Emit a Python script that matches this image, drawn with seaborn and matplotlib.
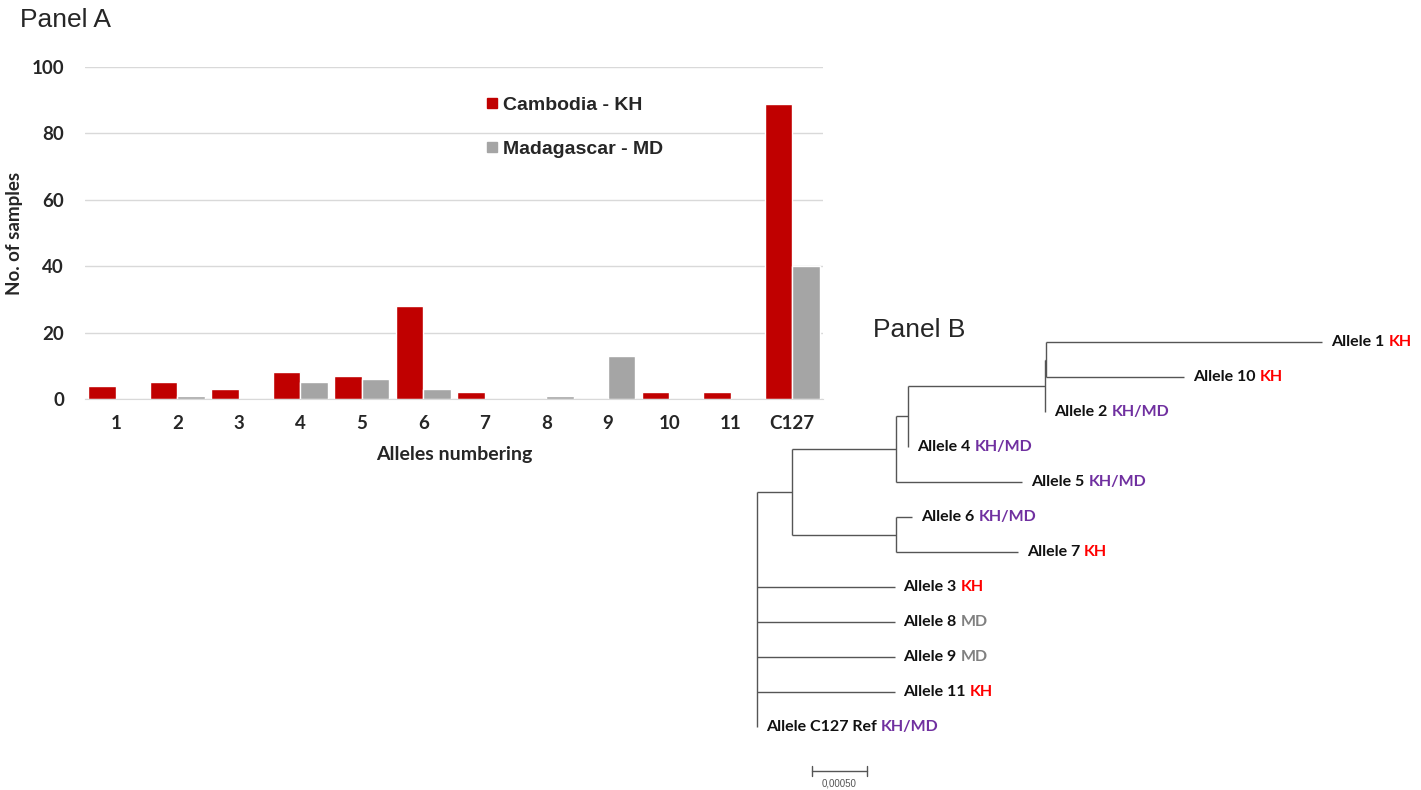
import numpy as np
import pandas as pd
import matplotlib
matplotlib.use('Agg')
import matplotlib.pyplot as plt
from matplotlib.lines import Line2D
import seaborn as sns

# Panel A data
alleles = ['1', '2', '3', '4', '5', '6', '7', '8', '9', '10', '11', 'C127']
cambodia_kh = [4, 5, 3, 8, 7, 28, 2, 0, 0, 2, 2, 89]
madagascar_md = [0, 1, 0, 5, 6, 3, 0, 1, 13, 0, 0, 40]
series_names = ['Cambodia - KH', 'Madagascar - MD']
y_ticks = [0, 20, 40, 60, 80, 100]

# Panel B data (tree edges, branch lengths in substitutions/site)
edge_child = ['A', 'C', 'D', 'E', 'F', 'G',
              'Allele 1', 'Allele 10', 'Allele 2', 'Allele 4', 'Allele 5',
              'Allele 6', 'Allele 7', 'Allele 3', 'Allele 8', 'Allele 9',
              'Allele 11', 'Allele C127 Ref']
edge_parent = ['root', 'A', 'A', 'C', 'E', 'F',
               'G', 'G', 'F', 'E', 'C',
               'D', 'D', 'root', 'root', 'root',
               'root', 'root']
edge_length = [0.00032, 0.00094, 0.00094, 0.00011, 0.00125, 0.00001,
               0.00251, 0.00125, 0.0, 0.0, 0.00115,
               0.00015, 0.00111, 0.00125, 0.00125, 0.00125,
               0.00125, 0.0]
leaf_order = ['Allele 1', 'Allele 10', 'Allele 2', 'Allele 4', 'Allele 5',
              'Allele 6', 'Allele 7', 'Allele 3', 'Allele 8', 'Allele 9',
              'Allele 11', 'Allele C127 Ref']
leaf_origin = ['KH', 'KH', 'KH/MD', 'KH/MD', 'KH/MD', 'KH/MD', 'KH',
               'KH', 'MD', 'MD', 'KH', 'KH/MD']
scale_bar_len = 0.0005
scale_bar_label = '0,00050'

RED = '#C00000'
GRAY = '#A5A5A5'
origin_colors = {'KH': '#FF0000', 'KH/MD': '#7030A0', 'MD': '#808080'}
TREE_COLOR = '#555555'
ARIAL = ['Liberation Sans', 'DejaVu Sans']

sns.set_style('white')
plt.rcParams['font.family'] = ['Lato', 'DejaVu Sans']

fig = plt.figure(figsize=(14.21, 7.90), dpi=100)

# ---- Panel A: grouped bars
df = pd.DataFrame({
    'allele': alleles * 2,
    'count': cambodia_kh + madagascar_md,
    'country': [series_names[0]] * len(alleles) + [series_names[1]] * len(alleles),
})
ax = fig.add_axes([85 / 1421, 1 - 399 / 790, 738 / 1421, 332 / 790])
sns.barplot(data=df, x='allele', y='count', hue='country', order=alleles,
            palette=[RED, GRAY], width=0.9, saturation=1, errorbar=None,
            legend=False, ax=ax)
ax.set_xlim(-0.5, len(alleles) - 0.5)
ax.set_ylim(0, 100)
ax.set_yticks(y_ticks)
ax.yaxis.grid(True, color='#D9D9D9', lw=1)
ax.set_axisbelow(True)
for s in ['left', 'right', 'top']:
    ax.spines[s].set_visible(False)
ax.spines['bottom'].set_color('#D9D9D9')
ax.tick_params(axis='both', length=0, labelsize=13.5)
ax.tick_params(axis='x', pad=11.5)
ax.tick_params(axis='y', pad=15)
for lab in ax.get_xticklabels() + ax.get_yticklabels():
    lab.set_fontweight('bold')
ax.set_xlabel('Alleles numbering', fontsize=14, fontweight='bold', labelpad=10)
ax.set_ylabel('No. of samples', fontsize=13.5, fontweight='bold', labelpad=6)

handles = [Line2D([], [], marker='s', ls='', color=c, markersize=6.5) for c in [RED, GRAY]]
ax.legend(handles, series_names, loc='upper left', bbox_to_anchor=(0.532, 0.94),
          frameon=False, labelspacing=1.35, handlelength=0.5, handletextpad=0.3,
          borderpad=0, prop={'weight': 'bold', 'size': 14, 'family': ARIAL})

fig.text(20 / 1421, 1 - 20 / 790, 'Panel A', fontsize=19, va='center', ha='left',
         family=ARIAL)

# ---- Panel B: phylogenetic tree
k = scale_bar_len / 55.0
ax2 = fig.add_axes([700 / 1421, 0, 721 / 1421, 470 / 790])
ax2.set_xlim((700 - 757) * k, (1421 - 757) * k)
ax2.set_ylim((790 - 342) / 35.0, (320 - 342) / 35.0)
ax2.axis('off')

xpos = {'root': 0.0}
children = {}
for c, p in zip(edge_child, edge_parent):
    children.setdefault(p, []).append(c)
# edges are listed parent-before-child
for c, p, l in zip(edge_child, edge_parent, edge_length):
    xpos[c] = xpos[p] + l
ypos = {name: i for i, name in enumerate(leaf_order)}


def node_y(n):
    if n in ypos:
        return ypos[n]
    ys = [node_y(c) for c in children[n]]
    ypos[n] = (min(ys) + max(ys)) / 2.0
    return ypos[n]


node_y('root')
for p, kids in children.items():
    ys = [ypos[c] for c in kids]
    ax2.plot([xpos[p], xpos[p]], [min(ys), max(ys)], color=TREE_COLOR, lw=1.0,
             solid_capstyle='butt')
    for c in kids:
        if xpos[c] > xpos[p]:
            ax2.plot([xpos[p], xpos[c]], [ypos[c], ypos[c]], color=TREE_COLOR, lw=1.0,
                     solid_capstyle='butt')

for name, origin in zip(leaf_order, leaf_origin):
    t = ax2.annotate(name, xy=(xpos[name], ypos[name]), xytext=(6.5, 0),
                     textcoords='offset points', va='center', ha='left',
                     fontsize=11.5, fontweight='bold', color='#111111')
    ax2.annotate(origin, xy=(1, 0.5), xycoords=t, xytext=(3, 0),
                 textcoords='offset points', va='center', ha='left',
                 fontsize=11.5, fontweight='bold', color=origin_colors[origin])

# scale bar
sb_y = (771 - 342) / 35.0
sb_x0 = scale_bar_len
ax2.plot([sb_x0, sb_x0 + scale_bar_len], [sb_y, sb_y], color=TREE_COLOR, lw=1.0)
for xx in [sb_x0, sb_x0 + scale_bar_len]:
    ax2.plot([xx, xx], [sb_y - 0.13, sb_y + 0.13], color=TREE_COLOR, lw=1.0)
ax2.text(sb_x0 + scale_bar_len / 2, sb_y + 0.2, scale_bar_label, ha='center', va='top',
         fontsize=7, color='#555555', family=ARIAL)

fig.text(873 / 1421, 1 - 330 / 790, 'Panel B', fontsize=19, va='center', ha='left',
         family=ARIAL)

fig.savefig('out.png', dpi=100)
